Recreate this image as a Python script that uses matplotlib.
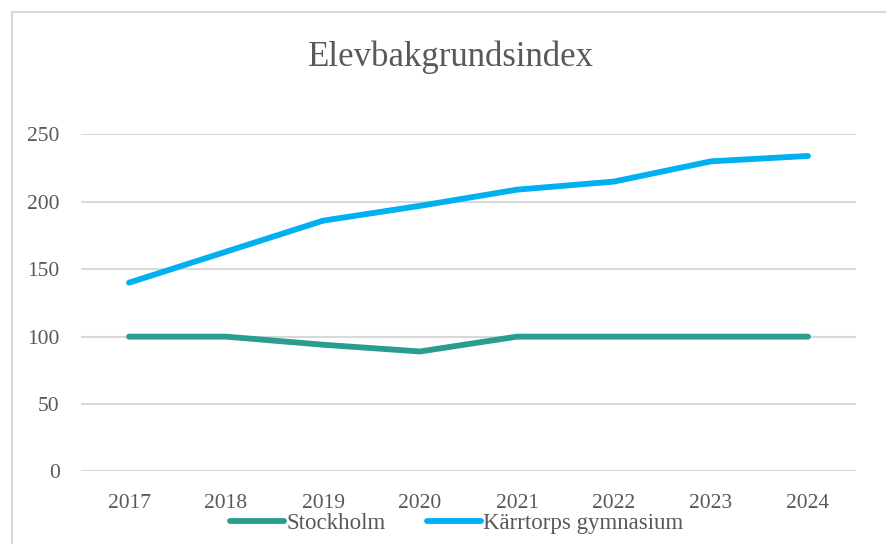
import matplotlib.pyplot as plt
from matplotlib.patches import Rectangle

years = ['2017', '2018', '2019', '2020', '2021', '2022', '2023', '2024']
stockholm = [100, 100, 94, 89, 100, 100, 100, 100]
karrtorp = [140, 163, 186, 197, 209, 215, 230, 234]
yticks = [0, 50, 100, 150, 200, 250]

text_grey = '#595959'
plt.rcParams['font.family'] = ['Liberation Serif', 'DejaVu Serif']

fig = plt.figure(figsize=(8.87, 5.44), dpi=100)
ax = fig.add_axes([0.0908, 0.1333, 0.8748, 0.6197])

# outer chart frame, cut off by the screenshot on right and bottom
fig.patches.append(Rectangle((12.5 / 887, -0.05), 1.0, 1 - 11.5 / 544 + 0.05,
                             transform=fig.transFigure, fill=False,
                             edgecolor='#D9D9D9', linewidth=1.5))

x = range(len(years))
ax.plot(x, stockholm, color='#2A9D8F', linewidth=4.2, solid_capstyle='round',
        label='Stockholm')
ax.plot(x, karrtorp, color='#00B0F0', linewidth=4.2, solid_capstyle='round',
        label='Kärrtorps gymnasium')

ax.set_xlim(-0.5, len(years) - 0.5)
ax.set_ylim(0, 250)
ax.set_xticks(list(x))
ax.set_xticklabels(years)
ax.set_yticks(yticks)
ax.tick_params(length=0, labelsize=15.5, colors=text_grey)
ax.tick_params(axis='y', pad=15)
ax.tick_params(axis='x', pad=16)
ax.grid(axis='y', color='#D9D9D9', linewidth=1.5)
ax.set_axisbelow(True)
for s in ax.spines.values():
    s.set_visible(False)

fig.suptitle('Elevbakgrundsindex', x=0.508, y=0.925, fontsize=25, color=text_grey)

fig.legend(loc='center', bbox_to_anchor=(0.5147, 0.038), ncol=2, frameon=False,
           fontsize=16.5, handlelength=2.35, handletextpad=0.1, columnspacing=1.8,
           labelcolor=text_grey)

fig.savefig('out.png', dpi=100, facecolor='white')
